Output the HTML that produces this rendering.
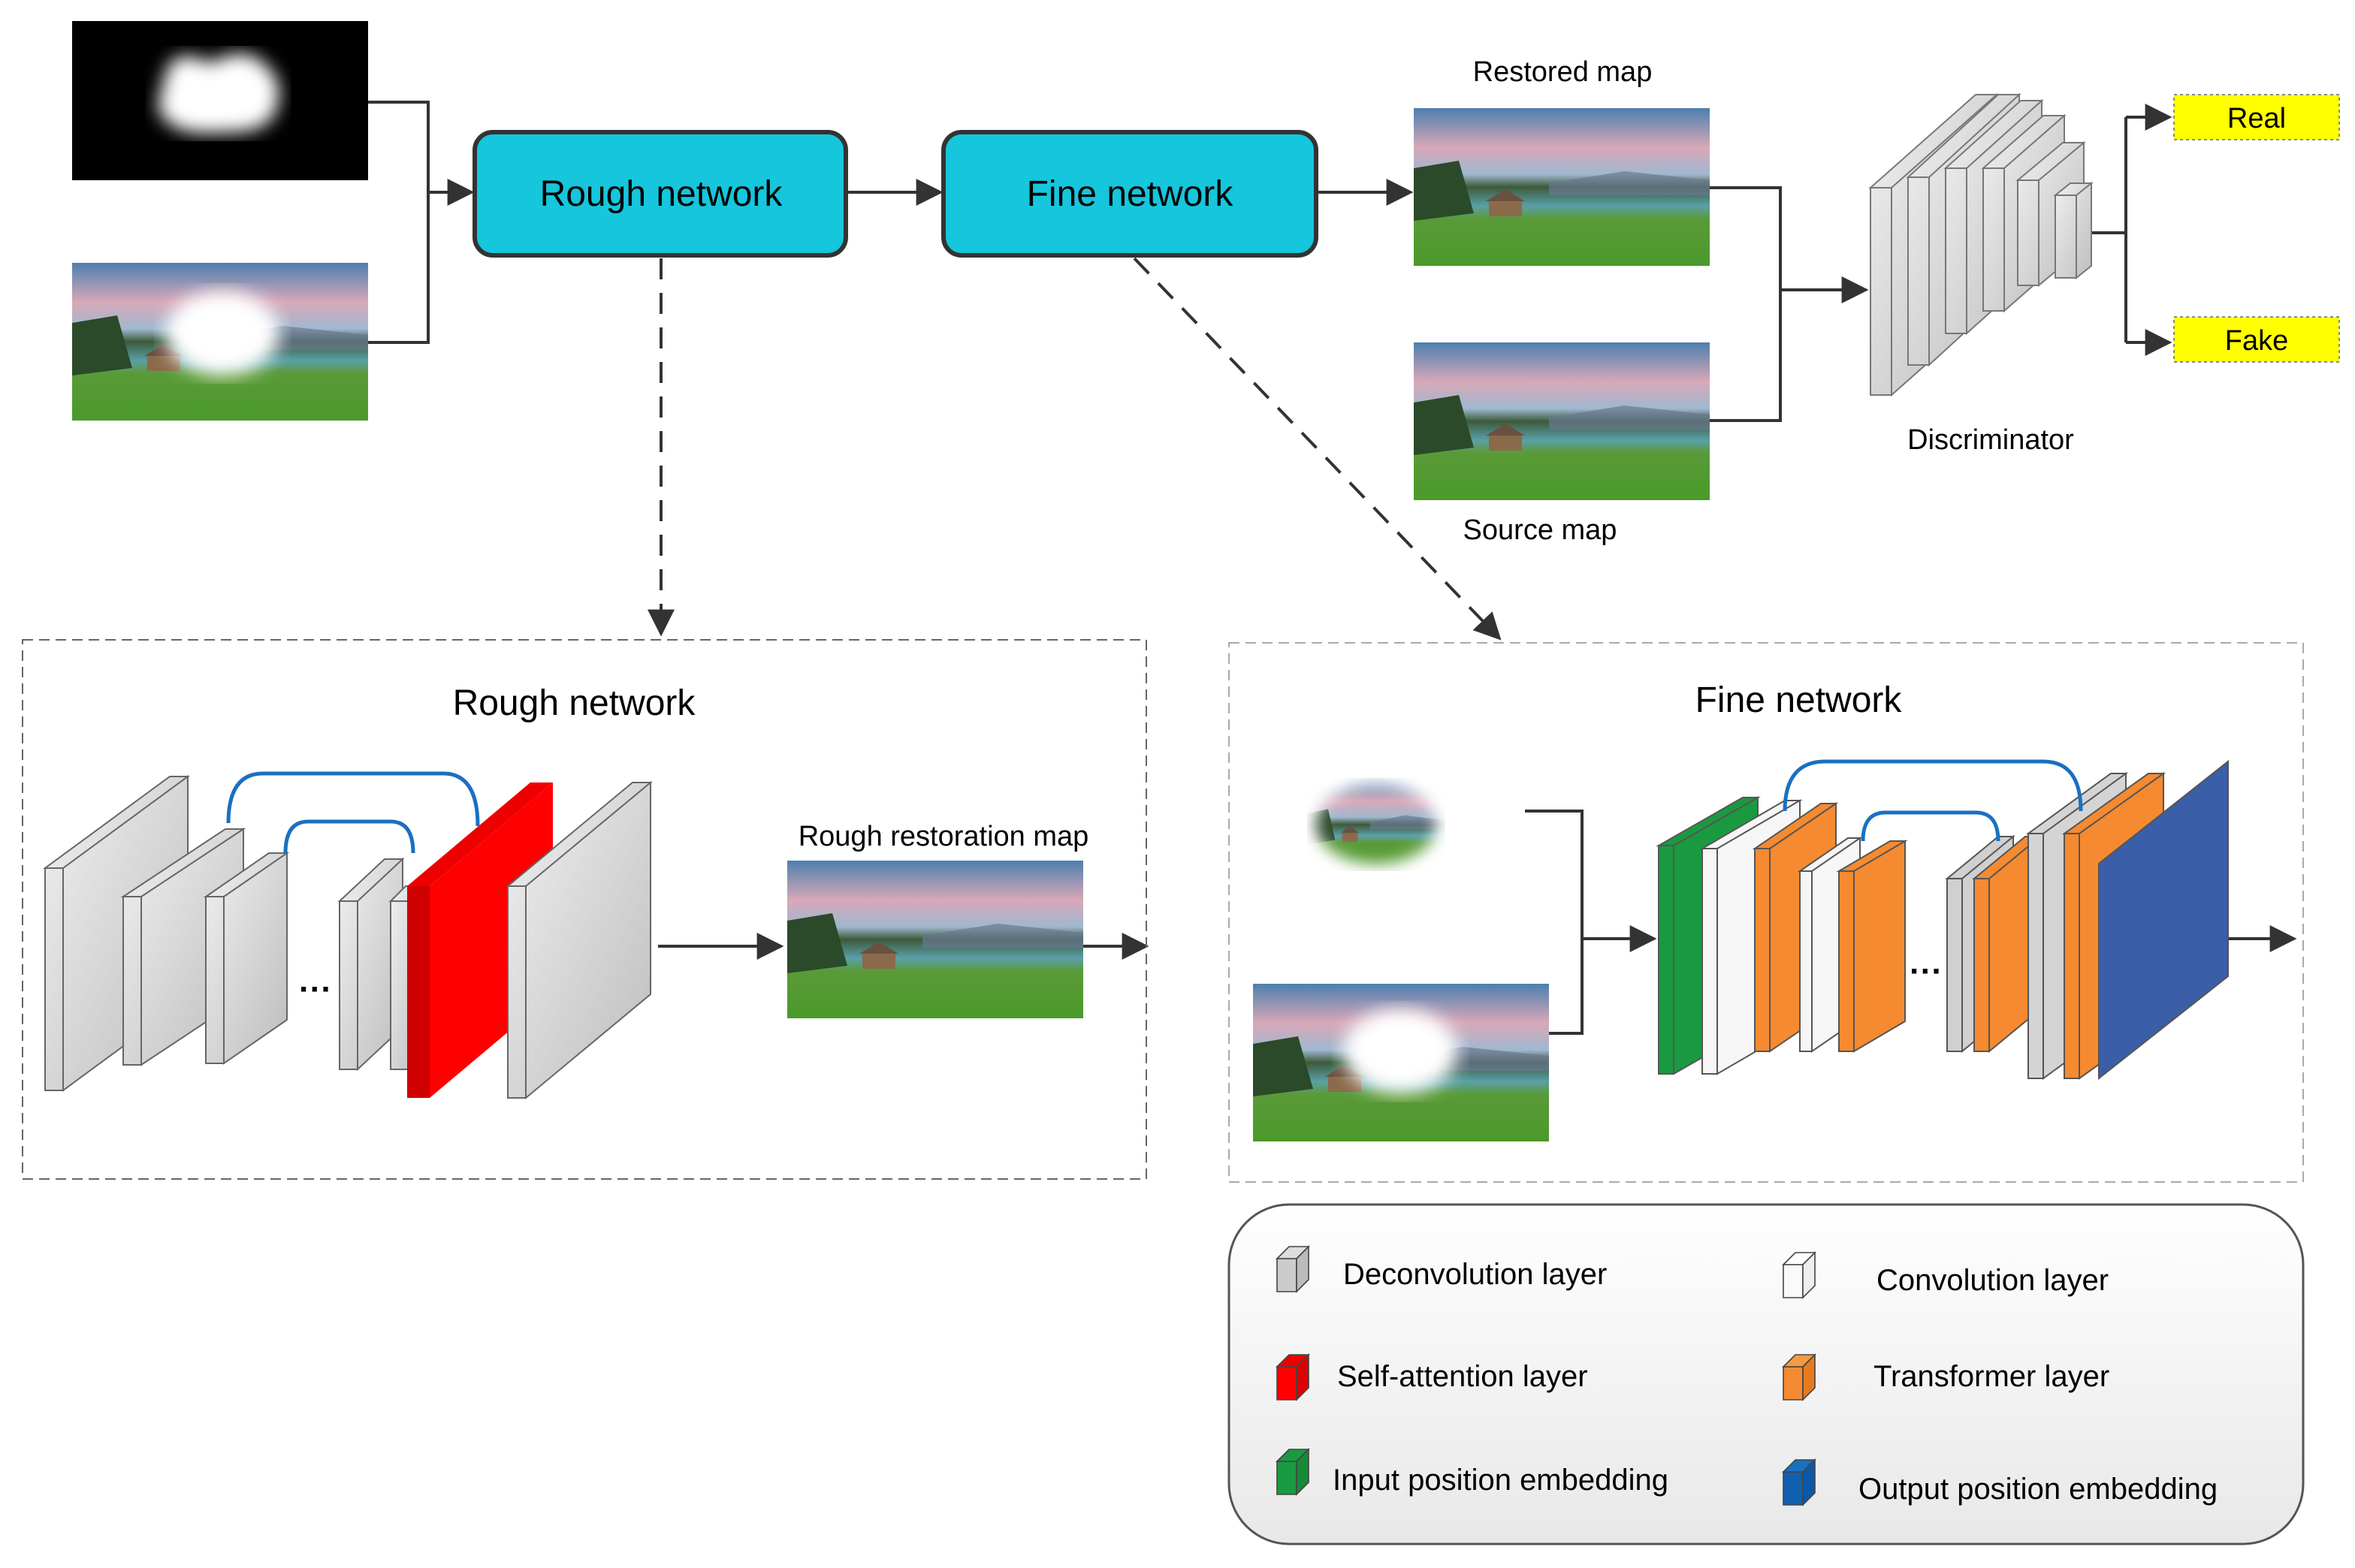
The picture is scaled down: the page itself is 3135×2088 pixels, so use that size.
<!DOCTYPE html>
<html><head><meta charset="utf-8"><style>html,body{margin:0;padding:0;background:#fff}svg{display:block}</style></head><body>
<svg xmlns="http://www.w3.org/2000/svg" width="3135" height="2088" viewBox="0 0 1567.5 1044" font-family="Liberation Sans, sans-serif">
<defs>
<marker id="a2" viewBox="0 0 10 10" refX="9" refY="5" markerWidth="18" markerHeight="18" orient="auto" markerUnits="userSpaceOnUse"><path d="M0,0L10,5L0,10z" fill="#333"/></marker>
<linearGradient id="sky" x1="0" y1="0" x2="0" y2="1">
<stop offset="0" stop-color="#4d7fae"/><stop offset="0.25" stop-color="#d8a8b8"/><stop offset="0.42" stop-color="#9fb8d0"/><stop offset="0.5" stop-color="#3c5a3a"/><stop offset="0.62" stop-color="#5aa0a8"/><stop offset="0.7" stop-color="#5a9a38"/><stop offset="1" stop-color="#4a9a2a"/></linearGradient>
<g id="land"><rect width="197" height="105" fill="url(#sky)"/><path d="M0,40 L30,35 L40,70 L0,75z" fill="#2a4a2a"/><path d="M90,50 L140,42 L197,48 L197,58 L90,58z" fill="#6a7890" opacity="0.7"/><rect x="50" y="62" width="22" height="10" fill="#8a6a4a"/><path d="M48,62 L61,54 L74,62z" fill="#6a5040"/></g>
<filter id="bl"><feGaussianBlur stdDeviation="6"/></filter>
<filter id="bl3" x="-50%" y="-50%" width="200%" height="200%"><feGaussianBlur stdDeviation="5"/></filter>
<linearGradient id="gr" x1="0" y1="0" x2="1" y2="1"><stop offset="0" stop-color="#f0f0f0"/><stop offset="1" stop-color="#bdbdbd"/></linearGradient>
<linearGradient id="lg" x1="0" y1="0" x2="0" y2="1"><stop offset="0" stop-color="#fff"/><stop offset="1" stop-color="#e8e8e8"/></linearGradient>
<mask id="em"><ellipse cx="916" cy="549" rx="40" ry="26" fill="#fff" filter="url(#bl3)"/></mask>
</defs>
<g stroke="#333" stroke-width="2" fill="none">
<path d="M245,68H285V228H245M285,128H314" marker-end="url(#a2)"/>
<path d="M563,128H626" marker-end="url(#a2)"/>
<path d="M876,128H939" marker-end="url(#a2)"/>
<path d="M1137,125H1185V280H1137M1185,193H1242" marker-end="url(#a2)"/>
<path d="M1392,155H1415M1415,78V228M1415,78H1444" marker-end="url(#a2)"/>
<path d="M1415,228H1444" marker-end="url(#a2)"/>
<path d="M440,172V422" stroke-dasharray="14,9" marker-end="url(#a2)"/>
<path d="M755,172L998,425" stroke-dasharray="14,9" marker-end="url(#a2)"/>
<path d="M438,630H520" marker-end="url(#a2)"/>
<path d="M721,630H763" marker-end="url(#a2)"/>
<path d="M1015,540H1053V688H1031M1053,625H1101" marker-end="url(#a2)"/>
<path d="M1483,625H1527" marker-end="url(#a2)"/>
</g>
<rect x="48" y="14" width="197" height="106" fill="#000"/>
<path d="M110,50 Q115,30 140,42 Q170,25 185,55 Q190,90 150,88 Q110,92 105,70z" fill="#fff" filter="url(#bl)"/>
<use href="#land" x="48" y="175"/>
<ellipse cx="148" cy="222" rx="38" ry="28" fill="#fff" filter="url(#bl)"/>
<use href="#land" x="941" y="72"/>
<use href="#land" x="941" y="228"/>
<text x="1040" y="54" font-size="19" text-anchor="middle">Restored map</text>
<text x="1025" y="359" font-size="19" text-anchor="middle">Source map</text>
<rect x="316" y="88" width="247" height="82" rx="12" fill="#15c6dc" stroke="#333" stroke-width="3"/>
<text x="440" y="137" font-size="24" text-anchor="middle">Rough network</text>
<rect x="628" y="88" width="248" height="82" rx="12" fill="#15c6dc" stroke="#333" stroke-width="3"/>
<text x="752" y="137" font-size="24" text-anchor="middle">Fine network</text>
<g stroke="#777" stroke-width="1" fill="url(#gr)">
<path d="M1245,125h14v138h-14z M1245,125l14,0l70,-62l-14,0z M1259,125l70,-62v138l-70,62z"/>
<path d="M1270,118h14v125h-14z M1270,118l14,0l60,-55l-14,0z M1284,118l60,-55v125l-60,55z"/>
<path d="M1295,112h14v110h-14z M1295,112l14,0l50,-45l-14,0z M1309,112l50,-45v110l-50,45z"/>
<path d="M1320,112h14v95h-14z M1320,112l14,0l40,-35l-14,0z M1334,112l40,-35v95l-40,35z"/>
<path d="M1343,120h14v70h-14z M1343,120l14,0l30,-25l-14,0z M1357,120l30,-25v70l-30,25z"/>
<path d="M1368,130h14v55h-14z M1368,130l14,0l10,-8l-14,0z M1382,130l10,-8v55l-10,8z"/>
</g>
<text x="1325" y="299" font-size="19" text-anchor="middle">Discriminator</text>
<rect x="1447" y="63" width="110" height="30" fill="#ffff00" stroke="#888" stroke-dasharray="2,2"/>
<text x="1502" y="85" font-size="19" text-anchor="middle">Real</text>
<rect x="1447" y="211" width="110" height="30" fill="#ffff00" stroke="#888" stroke-dasharray="2,2"/>
<text x="1502" y="233" font-size="19" text-anchor="middle">Fake</text>
<rect x="15" y="426" width="748" height="359" fill="none" stroke="#666" stroke-dasharray="7,4"/>
<text x="382" y="476" font-size="24" text-anchor="middle">Rough network</text>
<g stroke="#666" stroke-width="1" fill="url(#gr)">
<path d="M30,578h12v148h-12z M30,578h12l83,-61h-12z M42,578l83,-61v148l-83,61z"/>
<path d="M82,597h12v112h-12z M82,597h12l68,-45h-12z M94,597l68,-45v112l-68,45z"/>
<path d="M137,597h12v111h-12z M137,597h12l42,-29h-12z M149,597l42,-29v111l-42,29z"/>
<path d="M226,600h12v112h-12z M226,600h12l30,-28h-12z M238,600l30,-28v112l-30,28z"/>
<path d="M260,600h12v112h-12z M260,600h12l10,-10h-12z"/>
</g>
<path d="M271,590h15v141h-15z" fill="#d00000"/>
<path d="M286,590l82,-69v141l-82,69z" fill="#ff0000"/>
<path d="M271,590h15l82,-69h-15z" fill="#ee0000"/>
<g stroke="#666" stroke-width="1" fill="url(#gr)">
<path d="M338,590h12v141h-12z M338,590h12l83,-69h-12z M350,590l83,-69v141l-83,69z"/>
</g>
<text x="210" y="666" font-size="22" text-anchor="middle" font-weight="bold">···</text>
<path d="M152,548 Q152,515 175,515 H295 Q318,515 318,550" fill="none" stroke="#1a70c0" stroke-width="2.5"/>
<path d="M190,568 Q190,547 205,547 H260 Q275,547 275,568" fill="none" stroke="#1a70c0" stroke-width="2.5"/>
<text x="628" y="563" font-size="19" text-anchor="middle">Rough restoration map</text>
<use href="#land" x="524" y="573"/>
<rect x="818" y="428" width="715" height="359" fill="none" stroke="#aaa" stroke-dasharray="7,4"/>
<text x="1197" y="474" font-size="24" text-anchor="middle">Fine network</text>
<g mask="url(#em)"><svg x="870" y="518" width="92" height="62" viewBox="0 0 197 105" preserveAspectRatio="none"><use href="#land"/></svg></g>
<use href="#land" x="834" y="655"/>
<ellipse cx="932" cy="700" rx="38" ry="28" fill="#fff" filter="url(#bl)"/>
<g stroke="#555" stroke-width="1">
<path d="M1104,563h10v152h-10z M1104,563h10l56,-32h-10z M1114,563l56,-32v152l-56,32z" fill="#1a9a40"/>
<path d="M1133,565h10v150h-10z M1133,565h10l55,-32h-10z M1143,565l55,-32v150l-55,32z" fill="#f6f6f6"/>
<path d="M1168,565h10v135h-10z M1168,565h10l44,-30h-10z M1178,565l44,-30v135l-44,30z" fill="#f68a30"/>
<path d="M1198,580h8v120h-8z M1198,580h8l32,-22h-8z M1206,580l32,-22v120l-32,22z" fill="#f6f6f6"/>
<path d="M1224,580h10v120h-10z M1224,580h10l34,-20h-10z M1234,580l34,-20v120l-34,20z" fill="#f68a30"/>
<path d="M1296,585h10v115h-10z M1296,585h10l34,-28h-10z M1306,585l34,-28v115l-34,28z" fill="#d0d0d0"/>
<path d="M1314,585h10v115h-10z M1314,585h10l34,-28h-10z M1324,585l34,-28v115l-34,28z" fill="#f68a30"/>
<path d="M1350,555h10v163h-10z M1350,555h10l55,-40h-10z M1360,555l55,-40v163l-55,40z" fill="#d4d4d4"/>
<path d="M1374,555h10v163h-10z M1374,555h10l56,-40h-10z M1384,555l56,-40v163l-56,40z" fill="#f68a30"/>
<path d="M1397,575l86,-68v143l-86,68z" fill="#3a5ea8"/>
</g>
<text x="1282" y="654" font-size="22" text-anchor="middle" font-weight="bold">···</text>
<path d="M1188,540 Q1188,507 1215,507 H1360 Q1385,507 1385,540" fill="none" stroke="#1a70c0" stroke-width="2.5"/>
<path d="M1240,560 Q1240,541 1255,541 H1315 Q1330,541 1330,560" fill="none" stroke="#1a70c0" stroke-width="2.5"/>
<rect x="818" y="802" width="715" height="226" rx="40" fill="url(#lg)" stroke="#555" stroke-width="1.5"/>
<g stroke="#444" stroke-width="0.8">
<g transform="translate(850,830)"><path d="M0,8h13v22h-13z" fill="#ccc"/><path d="M0,8h13l8,-8h-13z" fill="#ddd"/><path d="M13,8l8,-8v22l-8,8z" fill="#bbb"/></g>
<g transform="translate(850,902)"><path d="M0,8h13v22h-13z" fill="#f00"/><path d="M0,8h13l8,-8h-13z" fill="#e00"/><path d="M13,8l8,-8v22l-8,8z" fill="#d00"/></g>
<g transform="translate(850,965)"><path d="M0,8h13v22h-13z" fill="#1a9a40"/><path d="M0,8h13l8,-8h-13z" fill="#1a9a40"/><path d="M13,8l8,-8v22l-8,8z" fill="#178a38"/></g>
<g transform="translate(1187,834)"><path d="M0,8h13v22h-13z" fill="#fafafa"/><path d="M0,8h13l8,-8h-13z" fill="#fff"/><path d="M13,8l8,-8v22l-8,8z" fill="#eee"/></g>
<g transform="translate(1187,902)"><path d="M0,8h13v22h-13z" fill="#f68a30"/><path d="M0,8h13l8,-8h-13z" fill="#f79a40"/><path d="M13,8l8,-8v22l-8,8z" fill="#e67a20"/></g>
<g transform="translate(1187,972)"><path d="M0,8h13v22h-13z" fill="#1060b0"/><path d="M0,8h13l8,-8h-13z" fill="#1a70c0"/><path d="M13,8l8,-8v22l-8,8z" fill="#0a58a8"/></g>
</g>
<g font-size="20">
<text x="894" y="855">Deconvolution layer</text>
<text x="890" y="923">Self-attention layer</text>
<text x="887" y="992">Input position embedding</text>
<text x="1249" y="859">Convolution layer</text>
<text x="1247" y="923">Transformer layer</text>
<text x="1237" y="998">Output position embedding</text>
</g>
</svg>
</body></html>
